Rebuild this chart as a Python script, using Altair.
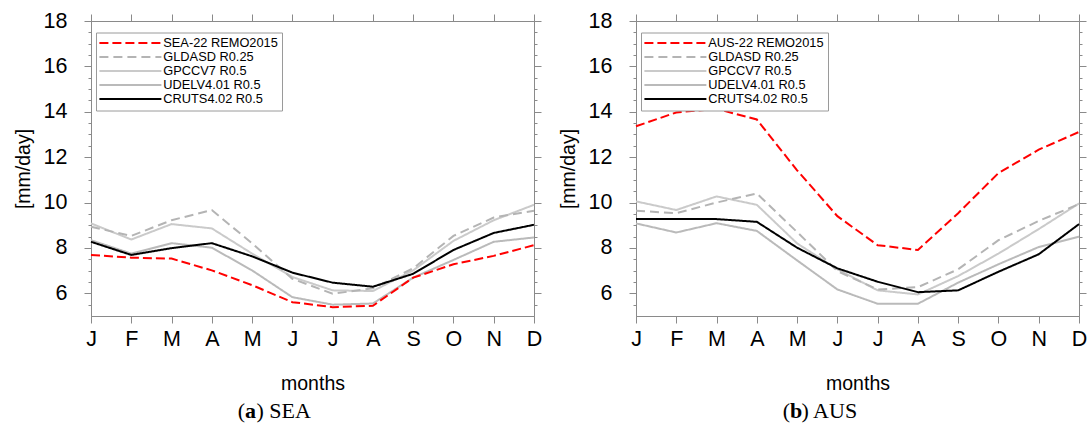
import altair as alt
import pandas as pd

# Month axis
months = list(range(1, 13))
month_labels = ["J", "F", "M", "A", "M", "J", "J", "A", "S", "O", "N", "D"]

# Y axis ticks: labelled every 2, minor ticks every 0.5
y_ticks = [5.5 + 0.5 * i for i in range(26)]

# Series names (legend order)
names_sea = ["SEA-22 REMO2015", "GLDASD R0.25", "GPCCV7 R0.5", "UDELV4.01 R0.5", "CRUTS4.02 R0.5"]
names_aus = ["AUS-22 REMO2015", "GLDASD R0.25", "GPCCV7 R0.5", "UDELV4.01 R0.5", "CRUTS4.02 R0.5"]

# Monthly mean precipitation [mm/day], South-East Asia
sea_remo = [7.69, 7.57, 7.53, 7.01, 6.36, 5.61, 5.39, 5.45, 6.69, 7.28, 7.65, 8.12]
sea_gldas = [8.93, 8.53, 9.22, 9.67, 8.20, 6.64, 5.98, 6.22, 7.10, 8.53, 9.34, 9.64]
sea_gpcc = [9.08, 8.37, 9.05, 8.86, 7.75, 6.72, 6.13, 6.10, 7.01, 8.31, 9.22, 9.90]
sea_udel = [8.34, 7.75, 8.21, 8.01, 7.01, 5.83, 5.50, 5.55, 6.69, 7.47, 8.27, 8.46]
sea_cru = [8.27, 7.69, 7.99, 8.21, 7.63, 6.91, 6.47, 6.29, 6.86, 7.91, 8.66, 9.02]

# Monthly mean precipitation [mm/day], Australasia
aus_remo = [13.36, 13.97, 14.13, 13.66, 11.42, 9.40, 8.12, 7.91, 9.53, 11.30, 12.33, 13.11]
aus_gldas = [9.64, 9.53, 10.00, 10.40, 8.70, 6.98, 6.17, 6.27, 7.06, 8.34, 9.19, 9.93]
aus_gpcc = [10.05, 9.67, 10.27, 9.90, 8.20, 7.06, 6.13, 5.95, 6.76, 7.75, 8.83, 9.96]
aus_udel = [9.08, 8.68, 9.09, 8.75, 7.45, 6.17, 5.54, 5.54, 6.47, 7.28, 8.04, 8.50]
aus_cru = [9.27, 9.27, 9.27, 9.15, 8.01, 7.10, 6.51, 6.05, 6.13, 6.95, 7.72, 9.05]

# Line styles, in legend order
line_colors = ["#ff0000", "#b4b4b4", "#cacaca", "#bababa", "#000000"]
line_dashes = [[9, 4], [9, 5], [1, 0], [1, 0], [1, 0]]
line_widths = [2, 2, 1, 2, 2]
draw_order = [2, 3, 1, 4, 0]  # gray first, then black, red on top

captions = [("(", "a", ") SEA"), ("(", "b", ") AUS")]

AXIS_GRAY = "#8a8a8a"
W, H = 443, 295
label_expr = "[" + ",".join("'%s'" % m for m in month_labels) + "][datum.value - 1]"
minor_size = {"condition": {"test": "datum.value % 2 === 0", "value": 7}, "value": 3}


def panel(names, series, caption):
    rows = []
    for rank, idx in enumerate(draw_order):
        for m, v in zip(months, series[idx]):
            rows.append({"month": m, "value": v, "series": names[idx], "rank": rank})
    df = pd.DataFrame(rows)

    xs = alt.Scale(domain=[1, 12], nice=False, zero=False)
    ys = alt.Scale(domain=[5, 18], nice=False, zero=False)

    legend = alt.Legend(
        title=None, orient="none", legendX=5, legendY=11.5, padding=4,
        strokeColor="#9a9a9a", fillColor="white", cornerRadius=0,
        labelFont="Liberation Sans", labelFontSize=12.8, labelColor="black",
        labelLimit=0, rowPadding=0,
        symbolType="M-1.4,0H11.0", symbolSize=100, labelOffset=50.5,
    )

    lines = alt.Chart(df).mark_line().encode(
        x=alt.X("month:Q", scale=xs, axis=alt.Axis(
            orient="bottom", values=months, labelExpr=label_expr, title="months",
            labelFlush=False, labelOverlap=False, tickSize=7, labelPadding=5,
            labelFontSize=21.5, titleFontSize=19.5, titlePadding=25)),
        y=alt.Y("value:Q", scale=ys, axis=alt.Axis(
            orient="left", values=y_ticks, title="[mm/day]",
            labelExpr="datum.value % 2 === 0 ? format(datum.value, 'd') : ''",
            labelOverlap=False, tickSize=minor_size, labelPadding=17,
            labelFontSize=21.5, titleFontSize=19.5, titlePadding=10)),
        color=alt.Color("series:N", scale=alt.Scale(domain=names, range=line_colors), legend=legend),
        strokeDash=alt.StrokeDash("series:N", scale=alt.Scale(domain=names, range=line_dashes), legend=legend),
        strokeWidth=alt.StrokeWidth("series:N", scale=alt.Scale(domain=names, range=line_widths), legend=legend),
        order="rank:Q",
    )

    # Top and right axes closing the frame
    frame = alt.Chart(df).mark_line(opacity=0).encode(
        x=alt.X("month:Q", scale=xs, axis=alt.Axis(
            orient="top", values=months, labels=False, title=None, tickSize=7)),
        y=alt.Y("value:Q", scale=ys, axis=alt.Axis(
            orient="right", values=y_ticks, labels=False, title=None, tickSize=minor_size)),
        detail="series:N",
    )

    one = pd.DataFrame({"k": [0]})
    cy = H + 95
    x0 = 154
    cap_open = alt.Chart(one).mark_text(
        text=caption[0], font="Liberation Serif", fontSize=22, align="right", baseline="middle", color="black"
    ).encode(x=alt.value(x0), y=alt.value(cy))
    cap_tag = alt.Chart(one).mark_text(
        text=caption[1], font="Liberation Serif", fontSize=22, fontWeight="bold", align="left",
        baseline="middle", color="black"
    ).encode(x=alt.value(x0), y=alt.value(cy))
    cap_rest = alt.Chart(one).mark_text(
        text=caption[2], font="Liberation Serif", fontSize=22, align="left", baseline="middle", color="black"
    ).encode(x=alt.value(x0 + 11.5), y=alt.value(cy))

    return alt.layer(frame, lines, cap_open, cap_tag, cap_rest).resolve_axis(
        x="independent", y="independent"
    ).properties(width=W, height=H)


left = panel(names_sea, [sea_remo, sea_gldas, sea_gpcc, sea_udel, sea_cru], captions[0])
right = panel(names_aus, [aus_remo, aus_gldas, aus_gpcc, aus_udel, aus_cru], captions[1])

chart = alt.hconcat(left, right, spacing=14).resolve_scale(
    color="independent", strokeDash="independent", strokeWidth="independent"
).properties(
    padding={"left": 12, "top": 9, "right": 0, "bottom": 0},
    background="white",
).configure_view(
    stroke=AXIS_GRAY, strokeWidth=1
).configure_axis(
    labelFont="Liberation Sans", titleFont="Liberation Sans",
    labelColor="black", titleColor="black", titleFontWeight="normal",
    domainColor=AXIS_GRAY, tickColor=AXIS_GRAY, grid=False,
)

chart.save("out.html", embed_options={"renderer": "svg", "actions": False})
